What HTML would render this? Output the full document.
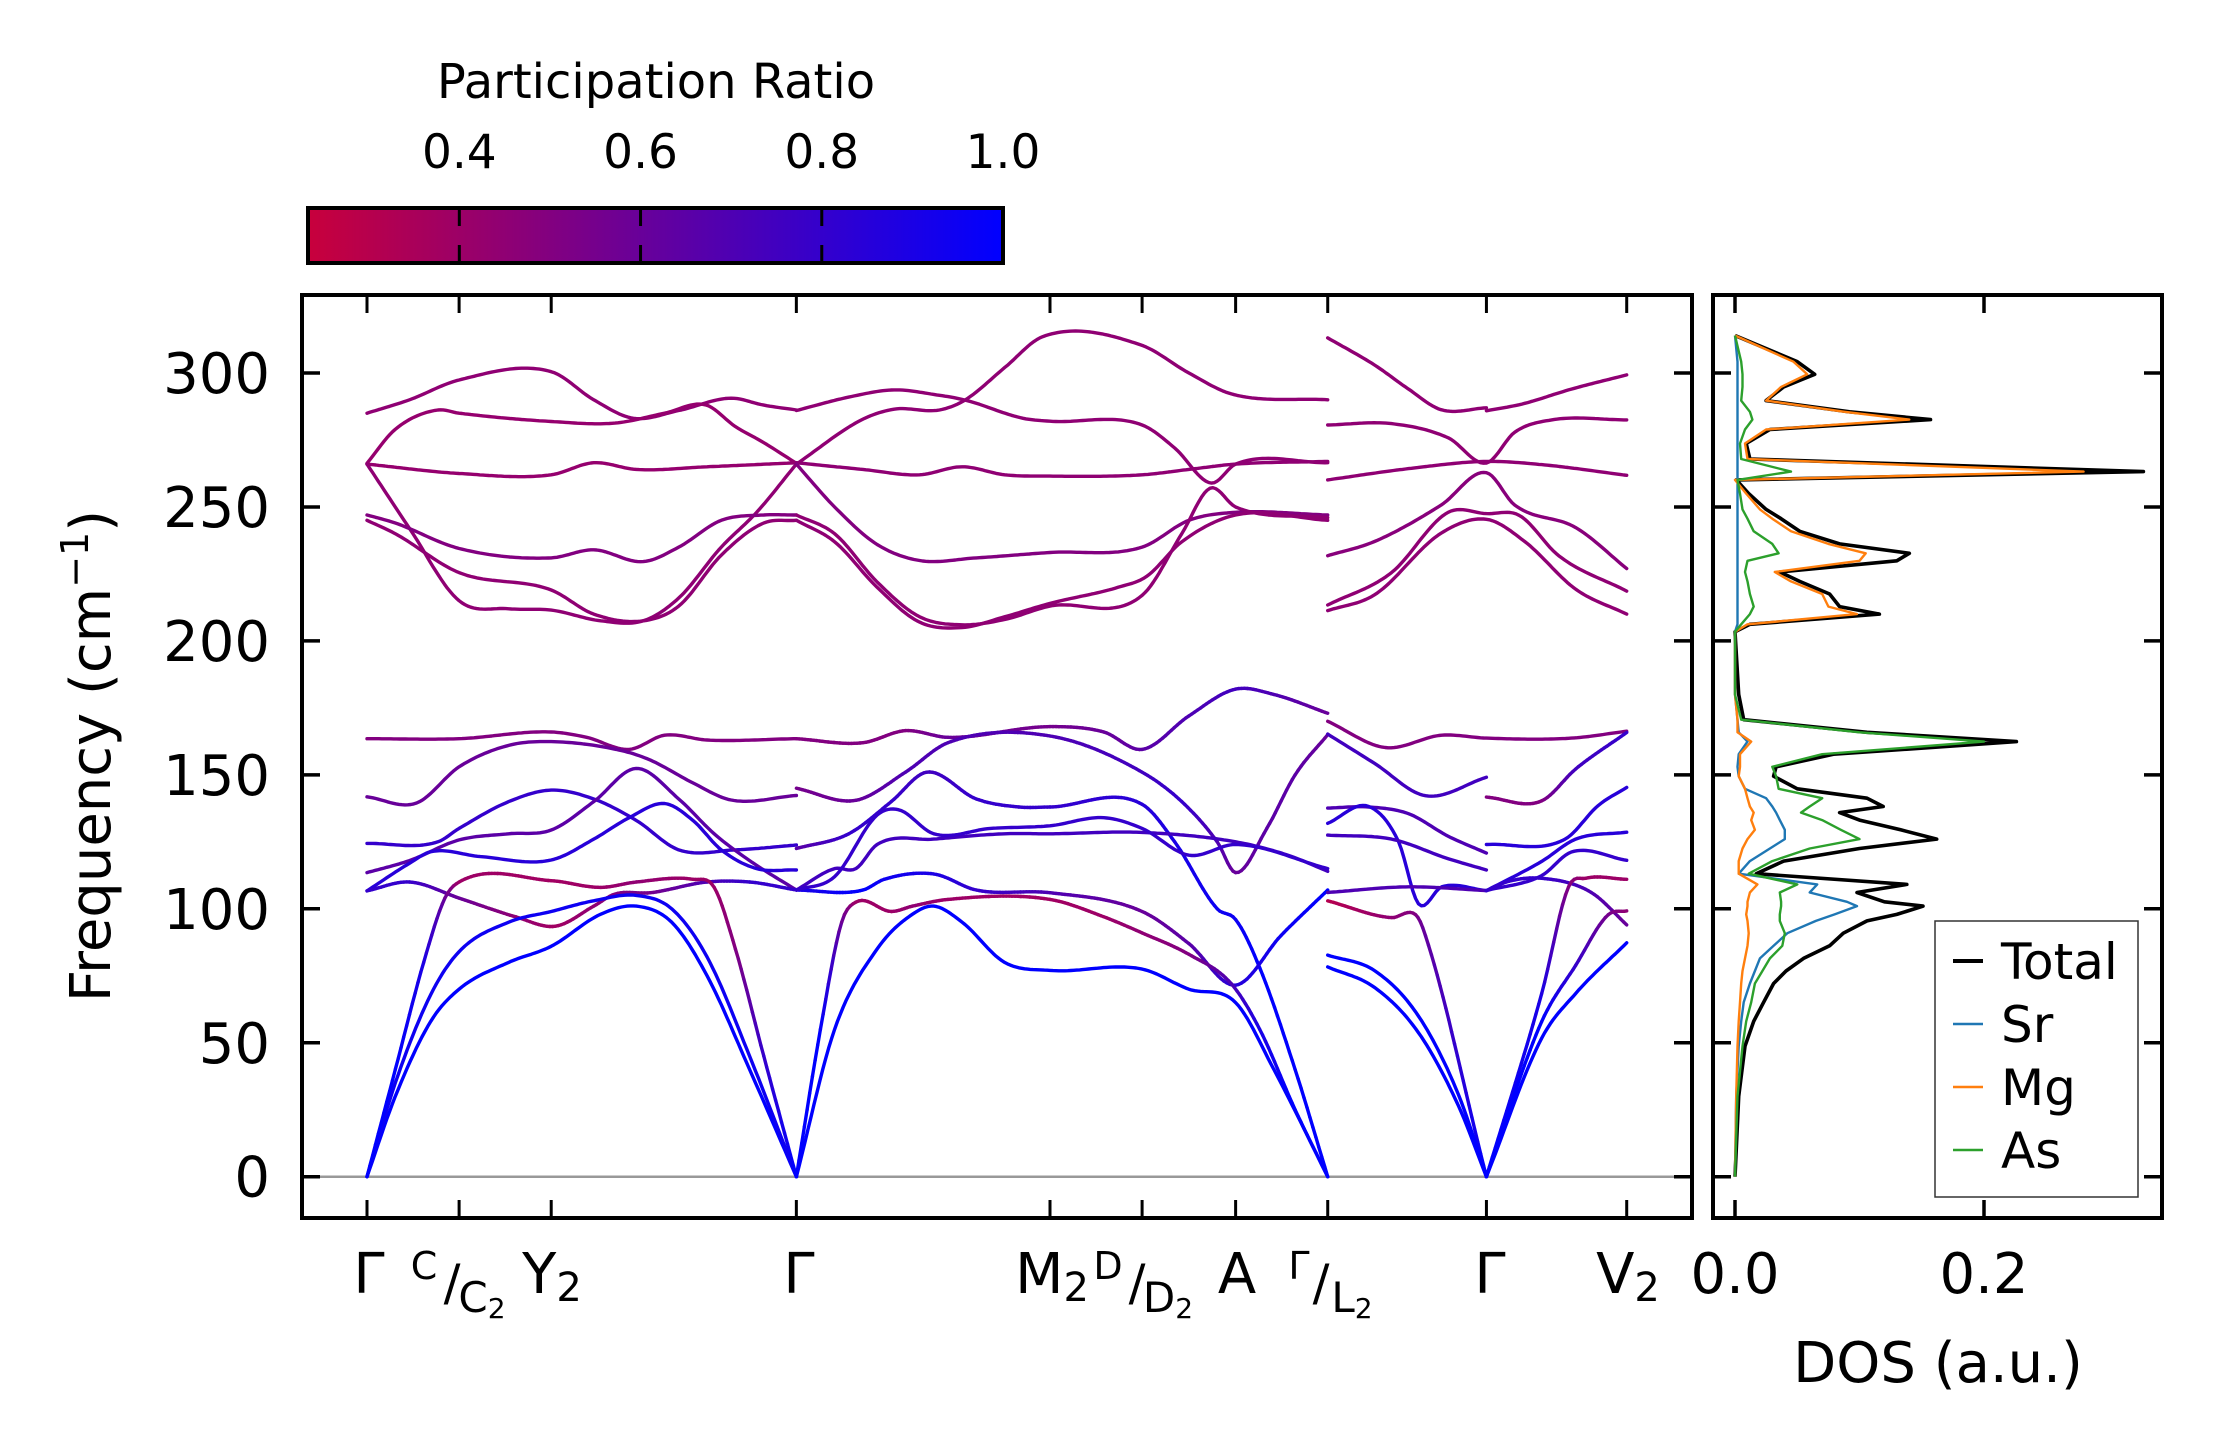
<!DOCTYPE html>
<html><head><meta charset="utf-8"><style>
html,body{margin:0;padding:0;background:#fff;}
svg{display:block;font-family:"DejaVu Sans","Liberation Sans",sans-serif;}
</style></head><body>
<svg id="fig" xmlns="http://www.w3.org/2000/svg" width="2222" height="1455" viewBox="0 0 2222 1455">
<defs>
<linearGradient id="cbgrad" x1="0" x2="1" y1="0" y2="0">
<stop offset="0" stop-color="rgb(200,0,60)"/><stop offset="1" stop-color="rgb(0,0,255)"/>
</linearGradient>
<clipPath id="mainclip"><rect x="302" y="295" width="1390" height="923"/></clipPath>
<clipPath id="dosclip"><rect x="1713" y="295" width="449" height="923"/></clipPath>
</defs>
<g id="colorbar">
<text x="656" y="98" font-size="48" text-anchor="middle">Participation Ratio</text>
<rect x="308" y="208" width="695" height="55" fill="url(#cbgrad)" stroke="#000" stroke-width="4"/>
</g>
<g id="bands" clip-path="url(#mainclip)"></g>
<g id="dos" clip-path="url(#dosclip)"></g>
<g id="axes"></g>
<text transform="translate(110,756) rotate(-90)" font-size="56" text-anchor="middle">Frequency (cm<tspan font-size="38" dy="-22">−1</tspan><tspan dy="22">)</tspan></text>
<text x="1938" y="1382" font-size="56" text-anchor="middle">DOS (a.u.)</text>
<g id="klabels" font-size="56" text-anchor="middle">
<text x="369" y="1293">Γ</text>
<text x="424" y="1279" font-size="38">C</text>
<text x="452" y="1300" font-size="50">/</text>
<text x="482" y="1312" font-size="42">C<tspan font-size="28" dy="6">2</tspan></text>
<text x="552" y="1293">Y<tspan font-size="40" dy="8">2</tspan></text>
<text x="799" y="1293">Γ</text>
<text x="1052" y="1293">M<tspan font-size="40" dy="8">2</tspan></text>
<text x="1108" y="1279" font-size="38">D</text>
<text x="1137" y="1300" font-size="50">/</text>
<text x="1168" y="1312" font-size="42">D<tspan font-size="28" dy="6">2</tspan></text>
<text x="1237" y="1293">A</text>
<text x="1299" y="1279" font-size="38">Γ</text>
<text x="1321" y="1300" font-size="50">/</text>
<text x="1352" y="1312" font-size="42">L<tspan font-size="28" dy="6">2</tspan></text>
<text x="1490" y="1293">Γ</text>
<text x="1628" y="1293">V<tspan font-size="40" dy="8">2</tspan></text>
</g>
<g id="legend">
<rect x="1935" y="921" width="203" height="276" fill="#fff" stroke="#333" stroke-width="1.5"/>
</g>
</svg>
<script>
// ---------- Band structure data (k path distance, frequency cm^-1, participation ratio) ----------
const kTicks = [0, 0.65, 1.30, 3.03, 4.82, 5.47, 6.13, 6.78, 7.90, 8.89];
const yTicks = [0, 50, 100, 150, 200, 250, 300];
const yTickLabels = ["0", "50", "100", "150", "200", "250", "300"];
const cbTicks = [0.4, 0.6, 0.8, 1.0];
const cbTickLabels = ["0.4", "0.6", "0.8", "1.0"];
const dosTicks = [0.0, 0.2];
const dosTickLabels = ["0.0", "0.2"];

const bandK = [
// segment Γ-C-Y2-Γ high
[0,0.3,0.65,1.3,1.6,1.88,2.2,2.57,2.8,3.03],
[0,0.2,0.5,0.65,1.3,1.75,2.1,2.39,2.6,2.8,3.03],
[0,0.65,1.3,1.6,1.9,2.4,3.03],
[0,0.3,0.65,1.0,1.3,1.65,1.95,2.2,2.5,2.75,3.03],
[0,0.2,0.65,1.3,1.6,1.95,2.2,2.5,2.8,3.03],
[0,0.2,0.65,1.3,1.6,1.95,2.2,2.5,2.8,3.03],
// low optical
[0,0.65,1.3,1.55,1.85,2.1,2.4,3.03],
[0,0.35,0.65,1.0,1.3,1.8,2.0,2.3,2.57,3.03],
[0,0.5,0.65,1.0,1.3,1.6,1.9,2.2,2.6,3.03],
[0,0.3,0.65,1.0,1.3,1.6,1.9,2.2,2.45,2.7,3.03],
[0,0.3,0.45,0.8,1.3,1.6,1.85,2.1,2.3,2.5,2.75,3.03],
[0,0.3,0.65,1.05,1.33,1.6,1.75,2.0,2.4,2.7,3.03],
// acoustic
[0,0.2,0.45,0.65,1.0,1.3,1.65,1.9,2.15,2.4,2.7,3.03],
[0,0.2,0.45,0.65,1.0,1.3,1.6,1.9,2.15,2.4,2.7,3.03],
[0,0.2,0.4,0.55,0.65,1.3,1.65,1.9,2.3,2.45,2.6,2.8,3.03],
// segment Γ-M2-D-A-Γ high
[3.03,3.4,3.72,4.0,4.22,4.63,4.82,5.47,5.7,5.96,6.13,6.78],
[3.03,3.49,3.72,4.04,4.22,4.5,4.77,5.46,5.8,6.1,6.78],
[3.03,3.5,3.9,4.2,4.5,4.82,5.47,5.8,6.13,6.78],
[3.03,3.3,3.6,3.9,4.3,4.82,5.47,5.8,6.13,6.78],
[3.03,3.3,3.6,3.9,4.2,4.5,4.82,5.47,5.75,5.95,6.13,6.78],
[3.03,3.3,3.6,3.9,4.2,4.5,4.82,5.3,5.5,5.75,6.13,6.78],
// low optical
[3.03,3.5,3.8,4.1,4.82,5.2,5.47,5.8,6.13,6.4,6.78],
[3.03,3.45,3.8,4.1,4.82,5.47,5.75,6.0,6.13,6.35,6.55,6.78],
[3.03,3.4,3.7,3.95,4.3,4.6,4.82,5.47,5.7,6.0,6.13,6.3,6.55,6.78],
[3.03,3.5,3.65,4.0,4.3,4.82,5.47,5.8,6.13,6.45,6.78],
[3.03,3.3,3.45,3.6,4.0,4.5,4.82,5.47,6.13,6.5,6.78],
[3.03,3.3,3.6,3.75,4.0,4.4,4.82,5.2,5.47,5.8,6.13,6.78],
// acoustic
[3.03,3.2,3.35,3.45,3.7,3.85,4.1,4.82,5.2,5.47,5.8,6.1,6.3,6.55,6.78],
[3.03,3.3,3.6,3.85,4.0,4.2,4.5,4.82,5.47,5.8,6.13,6.4,6.78],
// segment L2-Γ-V2 high
[6.78,7.11,7.35,7.58,7.9],
[7.9,8.15,8.5,8.89],
[6.78,7.23,7.63,7.9,8.1,8.36,8.89],
[6.78,7.35,7.9,8.29,8.89],
[6.78,7.11,7.58,7.9,8.1,8.53,8.89],
[6.78,7.23,7.63,7.9,8.13,8.41,8.89],
[6.78,7.11,7.58,7.9,8.17,8.53,8.89],
// low optical
[6.78,7.185,7.585,7.9,8.5,8.89],
[6.78,7.11,7.47,7.9],
[7.9,8.29,8.53,8.89],
[6.78,7.07,7.35,7.63,7.9],
[7.9,8.455,8.69,8.89],
[6.78,7.07,7.28,7.42,7.585,7.9],
[6.78,7.23,7.63,7.9],
[6.78,7.35,7.9],
[6.78,7.23,7.4,7.45,7.9],
[7.9,8.29,8.5,8.89],
[7.9,8.29,8.53,8.89],
[7.9,8.06,8.29,8.64,8.89],
// acoustic
[6.78,7.114,7.42,7.702,7.9],
[6.78,7.114,7.42,7.702,7.9],
[7.9,8.29,8.48,8.6,8.89],
[7.9,8.29,8.53,8.76,8.89],
[7.9,8.29,8.53,8.89]
];
const bandF = [
[285,290,297.4,300.5,290,283.1,286,290.6,288,286.2],
[266.3,279,286.2,285,281.9,281.3,285,288.1,280,274,266.3],
[266,262.5,262,266.5,264,265,266.5],
[266,242,215,212,211.5,207.5,207.5,216,235,248,266],
[247,244,234.5,231,234,229.6,235,245,247,247],
[245,240,225.5,219,210,207.5,213,232,244,245],
[163.5,163.5,166,164,159.5,164.8,163,163.5],
[141.8,139.5,153,161,162.4,159,155.5,147,140.6,142.3],
[124.4,125,130,140,144.3,141,133,122,122,123.8],
[113.5,118,125.7,128,129.4,140,152.4,141,128,118,107],
[106.7,117,121.3,119.5,118.2,126,134,139.3,133,122,115,114.5],
[106.7,110,104,97,93.5,101,105.5,106,110,110,107],
[0,30,58,70,80,86,98,101,95,75,40,0],
[0,35,68,84,95,99,103,105,100,82,45,0],
[0,40,80,104,110,110.5,108,110,111,108,85,45,0],
[286,291,293.7,292,289.9,283.1,282,280.6,272,258.9,266,266.5],
[266,282.5,286.5,286.2,289.9,302,313.6,310.5,300,292.2,290],
[266.5,264,262,265,262,261.5,262,264,266,267],
[266,250,236,230,231,233,235,245,248,247],
[247,240,222,209,206,208,213,217,240,257,250,246],
[245,237,220,207,205,209,214,220,224,237,247,245],
[163.5,162,166.5,164,168,166,159.5,172,182,180,173],
[145,140.5,151,162,164.5,151,140,125,113.5,130,150,165],
[122.5,128,140,151,141,138,138,139,125,100,96,78,40,0],
[107,107,111,113,107,106,99,87,71.5,90,107],
[107,115,115,124,126,128,128,128.5,125,120,114],
[107,112,135,137,128,130,131,134,130,120,124,115],
[0,55,95,102.5,99,101,103.5,103.5,97,91,83,72,55,25,0],
[0,55,85,98,101,95,80,77,77.5,70,65,40,0],
[313.1,303,294,286.3,287],
[285.9,288.4,294,299.3],
[280.6,281.1,275.8,266.4,277.9,282.5,282.5],
[260.1,264.3,267,265.8,261.8],
[231.8,237.1,250.7,262.8,250.7,242.3,227],
[213.4,225.5,248,247.5,246.9,231.8,218.6],
[211.3,217.2,240.2,245.4,237.1,219.3,210],
[170,160.2,164.8,163.7,163.7,166.3],
[165.2,154.3,142.2,149.1],
[141.7,140.3,152.2,165.8],
[137.6,138,135.5,127.1,120.8],
[124,126,138.6,145.3],
[131.9,138.2,125,101.9,108.2,106.8],
[127.5,126,118.7,114.5],
[106.1,108.2,106.8],
[103,96.7,97.8,93,0],
[106.8,112.4,121.2,118.1],
[106.8,117.7,126,128.6],
[106.8,110.3,111.4,106.1,94],
[82.7,76.8,60,30.7,0],
[78.3,70.5,53.8,26.5,0],
[0,68.4,108.2,111.4,111],
[0,57.9,78.9,97.8,99.2],
[0,51.7,68.4,87.3]
];
const bandR = [
.45,.43,.43,.45,.5,.45,
.5,.6,.8,.65,.85,[.8,.8,.6,.45,.38,.45,.5,.55,.7,.8,.8],
1,.95,[1,1,.9,.6,.4,.38,.4,.45,.4,.4,.5,.8,1],
.45,.45,.45,.5,.45,.45,
[.5,.5,.5,.6,.55,.6,.65,.7,.75,.7,.6],
[.55,.6,.7,.7,.7,.75,.8,.7,.6,.65,.65,.6],
[.65,.8,.8,.75,.8,.8,.8,.85,.9,.95,.95,1,1,1],
[.9,1,.95,.9,.8,.7,.6,.65,.85,.95,1],
.75,.8,
[1,1,.6,.4,.4,.45,.4,.38,.4,.45,.5,.7,.9,1,1],
1,
.45,.45,.45,.45,.48,.45,.45,
.5,.75,[.5,.5,.75,.8],.7,.85,.85,.75,.7,
[.3,.45,.5,.6,1],.8,.85,[.8,.8,.8,.7,.6],
1,1,[1,.9,.5,.4,.4],[1,1,.8,.55,.45],1
];

// ---------- DOS data ----------
const dosFreq = [0,30,48.7,58,65.1,72.1,76.8,81.5,86.2,90.9,95.5,97.9,101,102.6,106.1,109.1,113.1,117.8,122.5,126,129.5,133.1,135.9,138.2,141.3,144.8,149.5,153,157.7,162.4,165.9,170.6,180,203.4,206.2,210,212.8,217.5,222.2,225.7,229.9,232.7,236.2,240.9,245.6,249.1,255,260.1,263.2,267.9,273.7,278.9,282.6,285.5,289.7,294.8,299.5,304.2,314];
const dosTotal = [0,.003,.008,.015,.023,.031,.041,.055,.076,.087,.106,.13,.151,.12,.098,.138,.017,.039,.1,.162,.133,.1,.084,.119,.106,.05,.031,.033,.079,.226,.106,.007,.003,0,.012,.116,.084,.076,.052,.036,.13,.14,.084,.052,.037,.025,.011,.001,.328,.012,.009,.028,.157,.092,.025,.039,.064,.05,0];
const dosSr = [0,.001,.003,.005,.007,.012,.016,.02,.031,.042,.065,.08,.098,.09,.06,.066,.003,.012,.028,.04,.04,.036,.033,.03,.025,.008,.003,.002,.003,.01,.003,.002,0,0,.002,.002,.002,.002,.002,.002,.002,.002,.002,.002,.002,.002,.002,.002,.002,.002,.002,.002,.002,.002,.002,.002,.002,.002,0];
const dosMg = [0,.001,.002,.003,.004,.005,.006,.008,.01,.011,.01,.009,.01,.01,.012,.018,.003,.003,.006,.01,.016,.013,.015,.012,.01,.008,.003,.004,.004,.013,.002,.002,0,0,.01,.098,.075,.07,.045,.032,.1,.105,.075,.045,.03,.02,.009,0,.28,.01,.008,.025,.14,.088,.025,.037,.058,.047,0];
const dosAs = [0,.002,.006,.009,.013,.016,.022,.028,.038,.04,.036,.036,.037,.037,.036,.05,.011,.03,.06,.1,.085,.07,.053,.06,.07,.035,.033,.03,.07,.2,.1,.005,0,0,.005,.012,.015,.012,.01,.008,.01,.035,.03,.015,.01,.006,.004,.002,.045,.005,.004,.008,.014,.012,.005,.006,.006,.005,0];
const legendLabels = ["Total","Sr","Mg","As"];
const legendColors = ["#000000","#1f77b4","#ff7f0e","#2ca02c"];

// ---------- scales ----------
const NS = "http://www.w3.org/2000/svg";
const X0 = 302, X1 = 1692, Y0 = 295, Y1 = 1218;
const DX0 = 1713, DX1 = 2162;
function xk(k){ return 367 + k*141.7; }
function yf(f){ return 1176.7 - f*2.679; }
function xd(d){ return 1735 + d*1245; }
function xcb(v){ return 308 + (v-0.233)/0.767*695; }
function col(v){
  let t = Math.max(0, Math.min(1, (v-0.233)/0.767));
  return "rgb(" + Math.round(200*(1-t)) + ",0," + Math.round(60+195*t) + ")";
}
function mk(tag, attrs, parent){
  const e = document.createElementNS(NS, tag);
  for (const a in attrs) e.setAttribute(a, attrs[a]);
  parent.appendChild(e);
  return e;
}

// Hermite interpolation of f(k) with Catmull-Rom slopes
function samplePiece(ks, fs, rs){
  const n = ks.length, out = [];
  const sec = [];
  for (let i=0;i<n-1;i++) sec.push((fs[i+1]-fs[i])/(ks[i+1]-ks[i]));
  const m = [];
  for (let i=0;i<n;i++){
    if (i===0) m.push(sec[0]); else if (i===n-1) m.push(sec[n-2]); else m.push((sec[i-1]+sec[i])/2);
  }
  for (let i=0;i<n-1;i++){
    const h = ks[i+1]-ks[i];
    const steps = Math.max(2, Math.ceil(h*141.7/3));
    for (let s=0;s<=steps;s++){
      if (i>0 && s===0) continue;
      const t = s/steps, t2=t*t, t3=t2*t;
      const f = (2*t3-3*t2+1)*fs[i] + (t3-2*t2+t)*h*m[i] + (-2*t3+3*t2)*fs[i+1] + (t3-t2)*h*m[i+1];
      const r = rs[i] + (rs[i+1]-rs[i])*t;
      out.push([xk(ks[i]+h*t), yf(f), r]);
    }
  }
  return out;
}

const gB = document.getElementById("bands");
// zero line
const zl = mk("line", {x1:X0, x2:X1, y1:yf(0), y2:yf(0), stroke:"#999", "stroke-width":2.5}, gB);



for (let b=0;b<bandK.length;b++){
  const ks = bandK[b], fs = bandF[b];
  const rr = Array.isArray(bandR[b]) ? bandR[b] : ks.map(()=>bandR[b]);
  // split at interior zero points (sharp acoustic V)
  const pieces = [];
  let start = 0;
  for (let i=1;i<ks.length-1;i++){ if (fs[i]===0){ pieces.push([start,i]); start=i; } }
  pieces.push([start, ks.length-1]);
  const g = mk("g", {}, gB);
  
  
  for (const [a,z] of pieces){
    const pts = samplePiece(ks.slice(a,z+1), fs.slice(a,z+1), rr.slice(a,z+1));
    const constant = rr.slice(a,z+1).every(v=>v===rr[a]);
    if (constant){
      const p = mk("polyline", {points: pts.map(p=>p[0].toFixed(1)+","+p[1].toFixed(1)).join(" "), fill:"none", stroke:col(rr[a]), "stroke-width":3.4, "stroke-linejoin":"round", "stroke-linecap":"round"}, g);
      
      
    } else {
      for (let i=0;i<pts.length-1;i++){
        const l = mk("line", {x1:pts[i][0].toFixed(1), y1:pts[i][1].toFixed(1), x2:pts[i+1][0].toFixed(1), y2:pts[i+1][1].toFixed(1), stroke:col((pts[i][2]+pts[i+1][2])/2), "stroke-width":3.4, "stroke-linecap":"round"}, g);
        
        
      }
    }
  }
}

// DOS curves
const gD = document.getElementById("dos");
const dosSeries = [dosTotal, dosSr, dosMg, dosAs];
const dosWidths = [3.6, 2.4, 2.4, 2.4];
for (let s=0;s<dosSeries.length;s++){
  const pts = dosFreq.map((f,i)=>xd(dosSeries[s][i]).toFixed(1)+","+yf(f).toFixed(1)).join(" ");
  const p = mk("polyline", {points:pts, fill:"none", stroke:legendColors[s], "stroke-width":dosWidths[s], "stroke-linejoin":"round"}, gD);
  
  
}

// Axes
const gA = document.getElementById("axes");
function frame(x0,x1,name){
  const r = mk("rect", {x:x0, y:Y0, width:x1-x0, height:Y1-Y0, fill:"none", stroke:"#000", "stroke-width":4}, gA);
  
  
}
frame(X0,X1,"band-axes-frame");
frame(DX0,DX1,"dos-axes-frame");
const TL = 18;
for (let i=0;i<yTicks.length;i++){
  const y = yf(yTicks[i]);
  for (const [xa,dir] of [[X0,1],[X1,-1],[DX0,1],[DX1,-1]]){
    const t = mk("line", {x1:xa, x2:xa+dir*TL, y1:y, y2:y, stroke:"#000", "stroke-width":3.5}, gA);
    
    
  }
  const tx = mk("text", {x:270, y:y+20, "font-size":56, "text-anchor":"end"}, gA);
  tx.textContent = yTickLabels[i];
  
  
}
for (let i=0;i<kTicks.length;i++){
  const x = xk(kTicks[i]);
  for (const [ya,dir] of [[Y1,-1],[Y0,1]]){
    const t = mk("line", {x1:x, x2:x, y1:ya, y2:ya+dir*TL, stroke:"#000", "stroke-width":3}, gA);
    
    
  }
}
for (let i=0;i<dosTicks.length;i++){
  const x = xd(dosTicks[i]);
  for (const [ya,dir] of [[Y1,-1],[Y0,1]]){
    const t = mk("line", {x1:x, x2:x, y1:ya, y2:ya+dir*TL, stroke:"#000", "stroke-width":3.5}, gA);
    
    
  }
  const tx = mk("text", {x:x, y:1293, "font-size":56, "text-anchor":"middle"}, gA);
  tx.textContent = dosTickLabels[i];
  
  
}

// colorbar ticks
const gC = document.getElementById("colorbar");
for (let i=0;i<cbTicks.length;i++){
  const x = xcb(cbTicks[i]);
  if (cbTicks[i] < 1.0){
    for (const [ya,dir] of [[208,1],[263,-1]]){
      const t = mk("line", {x1:x, x2:x, y1:ya, y2:ya+dir*18, stroke:"#000", "stroke-width":3}, gC);
      
      
    }
  }
  const tx = mk("text", {x:x, y:168, "font-size":47, "text-anchor":"middle"}, gC);
  tx.textContent = cbTickLabels[i];
  
  
}

// legend
const gL = document.getElementById("legend");
const legY = [961, 1024, 1087, 1150];
for (let i=0;i<legendLabels.length;i++){
  const l = mk("line", {x1:1953, x2:1983, y1:legY[i], y2:legY[i], stroke:legendColors[i], "stroke-width": i===0?4:2.5}, gL);
  
  
  const t = mk("text", {x:2001, y:legY[i]+18, "font-size":50}, gL);
  t.textContent = legendLabels[i];
  
  
}
</script>
</body></html>
